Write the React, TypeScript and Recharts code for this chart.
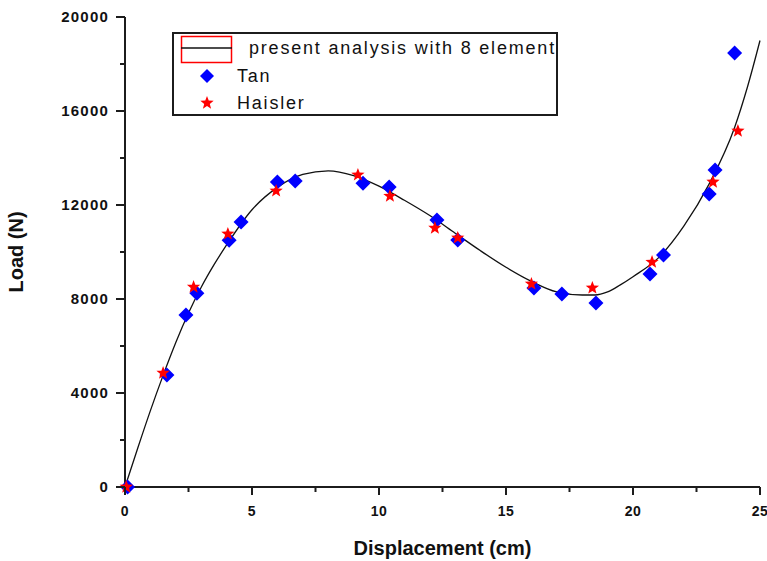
import { ComposedChart, Line, Scatter, XAxis, YAxis, Legend, Label } from "recharts";

// curve from the present analysis (8 elements)
const curveX = [0, 0.5, 1, 1.5, 2, 2.5, 3, 3.5, 4, 5, 6, 7, 8, 9, 10, 11, 12, 13, 14, 15, 16, 17, 18, 18.5, 19, 19.5, 20, 21, 22, 23, 24, 24.5, 25];
const curveY = [0, 1650, 3250, 4750, 6150, 7400, 8500, 9450, 10300, 11800, 12750, 13300, 13450, 13250, 12800, 12200, 11550, 10800, 10050, 9350, 8750, 8300, 8170, 8170, 8300, 8600, 8950, 9750, 11100, 12900, 15300, 17000, 19000];

const tanX = [0.1, 1.65, 2.4, 2.83, 4.1, 4.57, 6.0, 6.7, 9.37, 10.4, 12.28, 13.1, 16.1, 17.2, 18.54, 20.67, 21.2, 23.0, 23.23, 24.0];
const tanY = [0, 4770, 7320, 8250, 10500, 11280, 12980, 13020, 12930, 12770, 11360, 10510, 8470, 8210, 7830, 9060, 9870, 12470, 13490, 18470];

const haislerX = [0.05, 1.5, 2.7, 4.05, 5.95, 9.17, 10.43, 12.2, 13.1, 16.0, 18.4, 20.75, 23.15, 24.13];
const haislerY = [0, 4850, 8510, 10770, 12600, 13280, 12380, 11020, 10600, 8640, 8470, 9570, 12980, 15150];

const xMajor = [0, 5, 10, 15, 20, 25];
const xMinor = [2.5, 7.5, 12.5, 17.5, 22.5];
const yMajor = [0, 4000, 8000, 12000, 16000, 20000];
const yMinor = [2000, 6000, 10000, 14000, 18000];

const curve = curveX.map((x, i) => ({ x, y: curveY[i] }));
const tan = tanX.map((x, i) => ({ x, y: tanY[i] }));
const haisler = haislerX.map((x, i) => ({ x, y: haislerY[i] }));

const AXIS = "#1c1c1c";
const FONT = "'Liberation Sans', Arial, sans-serif";
const tickFont = { fontFamily: FONT, fontWeight: 700, fontSize: 14 };

function Diamond({ cx, cy, r = 7.5 }: any) {
  return <polygon points={`${cx},${cy - r} ${cx + r},${cy} ${cx},${cy + r} ${cx - r},${cy}`} fill="#0000ff" />;
}

function Star({ cx, cy, r = 7 }: any) {
  const pts: string[] = [];
  for (let i = 0; i < 10; i++) {
    const rad = i % 2 === 0 ? r : r * 0.42;
    const a = -Math.PI / 2 + (i * Math.PI) / 5;
    pts.push(`${cx + rad * Math.cos(a)},${cy + rad * Math.sin(a)}`);
  }
  return <polygon points={pts.join(" ")} fill="#ff0000" />;
}

function XTick({ x, y, payload }: any) {
  const major = xMajor.includes(payload.value);
  return (
    <g>
      <line x1={x} y1={y} x2={x} y2={y + (major ? 8 : 5)} stroke={AXIS} strokeWidth={2} />
      {major && (
        <text x={x} y={y + 29} textAnchor="middle" fill="#111" style={{ ...tickFont, letterSpacing: 0.5 }}>
          {payload.value}
        </text>
      )}
    </g>
  );
}

function YTick({ x, y, payload }: any) {
  const major = yMajor.includes(payload.value);
  return (
    <g>
      <line x1={x - (major ? 9 : 5)} y1={y} x2={x} y2={y} stroke={AXIS} strokeWidth={2} />
      {major && (
        <text x={x - 16} y={y + 5} textAnchor="end" fill="#111" style={{ ...tickFont, fontSize: 15, letterSpacing: 1.2 }}>
          {payload.value}
        </text>
      )}
    </g>
  );
}

const legendText = { fontFamily: FONT, fontSize: 18, letterSpacing: 1.8, color: "#111" };

function renderLegend() {
  return (
    <div style={{ width: 386, height: 84, border: `2px solid ${AXIS}`, boxSizing: "border-box", position: "relative", background: "#fff" }}>
      <svg width={60} height={80} style={{ position: "absolute", left: 0, top: 0 }}>
        <rect x={7.5} y={2.5} width={50} height={26} fill="none" stroke="#ff0000" strokeWidth={1.5} />
        <line x1={7} y1={14} x2={58} y2={14} stroke="#111" strokeWidth={1.5} />
        <Diamond cx={33} cy={42} r={7} />
        <Star cx={33} cy={69} r={7} />
      </svg>
      <div style={{ ...legendText, position: "absolute", left: 75, top: 2, lineHeight: "24px", whiteSpace: "nowrap" }}>
        present analysis with 8 element
      </div>
      <div style={{ ...legendText, position: "absolute", left: 63, top: 30, lineHeight: "24px" }}>Tan</div>
      <div style={{ ...legendText, position: "absolute", left: 63, top: 57, lineHeight: "24px" }}>Haisler</div>
    </div>
  );
}

export default function App() {
  return (
    <div style={{ position: "absolute", left: 0, top: 0, width: 767, height: 561, background: "#fff" }}>
      <ComposedChart width={767} height={561} margin={{ top: 17, right: 7, bottom: 0, left: 0 }}>
        <XAxis
          type="number"
          dataKey="x"
          domain={[0, 25]}
          ticks={[...xMajor, ...xMinor].sort((a, b) => a - b)}
          interval={0}
          height={74}
          tickSize={0}
          tickMargin={0}
          tickLine={false}
          axisLine={{ stroke: AXIS, strokeWidth: 2 }}
          tick={<XTick />}
        >
          <Label
            value="Displacement (cm)"
            position="insideBottom"
            offset={6}
            style={{ fontFamily: FONT, fontWeight: 700, fontSize: 20, fill: "#111" }}
          />
        </XAxis>
        <YAxis
          type="number"
          dataKey="y"
          domain={[0, 20000]}
          ticks={[...yMajor, ...yMinor].sort((a, b) => a - b)}
          interval={0}
          width={125}
          tickSize={0}
          tickMargin={0}
          tickLine={false}
          axisLine={{ stroke: AXIS, strokeWidth: 2 }}
          tick={<YTick />}
        >
          <Label
            value="Load (N)"
            angle={-90}
            position="insideLeft"
            offset={16}
            style={{ textAnchor: "middle", fontFamily: FONT, fontWeight: 700, fontSize: 20, fill: "#111" }}
          />
        </YAxis>
        <Legend
          layout="vertical"
          align="center"
          verticalAlign="middle"
          content={renderLegend}
          wrapperStyle={{ left: 172, top: 32, width: 386, height: 84 }}
        />
        <Line
          data={curve}
          dataKey="y"
          type="monotone"
          stroke="#111"
          strokeWidth={1.3}
          dot={false}
          activeDot={false}
          isAnimationActive={false}
          name="present analysis with 8 element"
        />
        <Scatter data={tan} dataKey="y" name="Tan" shape={(p: any) => <Diamond cx={p.cx} cy={p.cy} />} isAnimationActive={false} />
        <Scatter data={haisler} dataKey="y" name="Haisler" shape={(p: any) => <Star cx={p.cx} cy={p.cy} />} isAnimationActive={false} />
      </ComposedChart>
    </div>
  );
}
